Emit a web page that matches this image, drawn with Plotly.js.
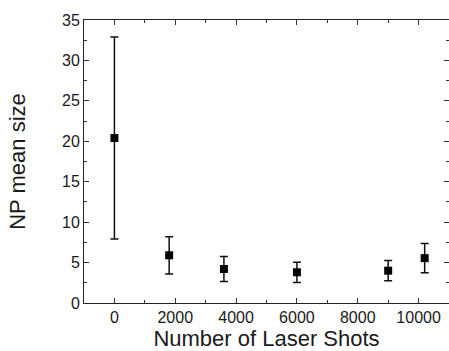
<!DOCTYPE html>
<html><head><meta charset="utf-8">
<script src="https://cdn.plot.ly/plotly-3.0.1.min.js"></script>
<style>html,body{margin:0;padding:0;background:#fff}</style>
</head><body><div id="chart" style="width:449px;height:351px"></div>
<script>
const shots = [0, 1800, 3600, 6000, 9000, 10200];
const meanSize = [20.4, 5.9, 4.2, 3.8, 4.0, 5.55];
const sizeErr = [12.5, 2.3, 1.55, 1.25, 1.25, 1.8];
const xTicks = [0, 2000, 4000, 6000, 8000, 10000];
const yTicks = [0, 5, 10, 15, 20, 25, 30, 35];

const trace = {
  x: shots, y: meanSize, type: 'scatter', mode: 'markers',
  marker: {symbol: 'square', size: 8, color: '#000'},
  error_y: {type: 'data', array: sizeErr, visible: true, color: '#111', thickness: 1.5, width: 4}
};
const fam = 'Liberation Sans, Arial, sans-serif';
const axisFont = {family: fam, size: 16, color: '#1a1a1a'};
const titleFont = {family: fam, size: 22, color: '#1a1a1a'};
const layout = {
  width: 449, height: 351,
  margin: {l: 84, r: 0, t: 20, b: 48, autoexpand: false},
  paper_bgcolor: '#fff', plot_bgcolor: '#fff',
  showlegend: false,
  xaxis: {
    range: [-1000, 11000], tickvals: xTicks, ticktext: xTicks.map(String),
    ticks: 'inside', ticklen: 5, tickwidth: 1, tickcolor: '#333',
    minor: {dtick: 1000, ticks: 'inside', ticklen: 3, tickcolor: '#333'},
    showline: true, linecolor: '#222', linewidth: 1, mirror: 'ticks',
    showgrid: false, zeroline: false, tickfont: axisFont, automargin: false,
    title: {text: 'Number of Laser Shots', font: titleFont, standoff: 2}
  },
  yaxis: {
    range: [0, 35], tickvals: yTicks, ticktext: yTicks.map(String),
    ticks: 'inside', ticklen: 5, tickwidth: 1, tickcolor: '#333',
    minor: {dtick: 2.5, ticks: 'inside', ticklen: 3, tickcolor: '#333'},
    showline: true, linecolor: '#222', linewidth: 1, mirror: 'ticks',
    showgrid: false, zeroline: false, tickfont: axisFont, automargin: false,
    title: {text: 'NP mean size', font: titleFont, standoff: 30}
  }
};
Plotly.newPlot('chart', [trace], layout, {displayModeBar: false, staticPlot: true});
</script></body></html>
